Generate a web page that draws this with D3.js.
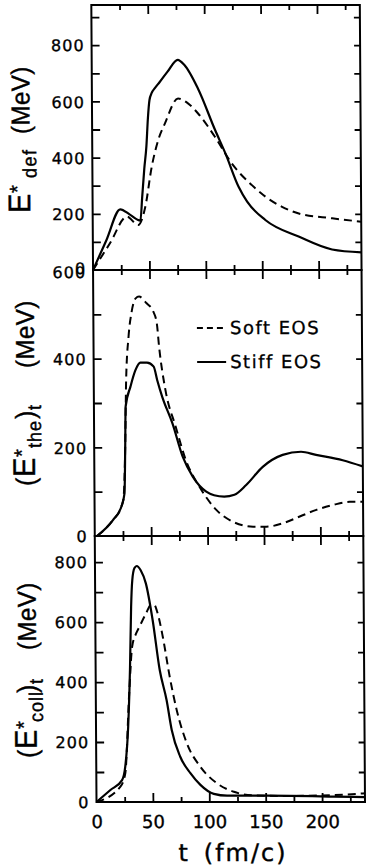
<!DOCTYPE html>
<html><head><meta charset="utf-8">
<script src="https://cdn.jsdelivr.net/npm/d3@7"></script>
<style>body{margin:0;background:#fff}svg{display:block}</style>
</head><body>
<svg id="c" width="366" height="867"></svg>
<script>
// ---------- data ----------
const tDefStiff = [0, 12, 24.5, 33, 42.3, 44, 46, 48, 49.5, 51, 53, 56, 60, 67, 76.3, 82, 94, 109, 118, 129.5, 137, 153, 183, 212, 238];
const eDefStiff = [0, 106, 216, 197, 176, 260, 360, 440, 540, 605, 630, 648, 668, 705, 748, 730, 646, 498, 415, 296, 243, 178, 118, 73, 63];
const tDefSoft  = [0, 15, 30.4, 40.2, 46.7, 52.6, 58.5, 64.5, 76.3, 85.1, 94, 108.8, 123.6, 141.3, 153.2, 167.9, 182.7, 212.3, 238];
const eDefSoft  = [0, 94, 190, 160, 225, 367, 462, 521, 610, 593, 557, 474, 379, 302, 261, 225, 201, 184, 172];

const tTheStiff = [2, 16.2, 23.7, 26.6, 27.5, 28.1, 32.5, 37, 41.4, 47.3, 53.2, 56.2, 60.6, 69.5, 78.4, 87.2, 99.1, 106, 115, 124, 134.5, 149.3, 167, 183.3, 196.6, 220.2, 238];
const eTheStiff = [0, 36, 66, 96, 201, 292, 337, 374, 391, 391, 382, 352, 314, 254, 179, 134, 100, 92, 89, 93, 115, 156, 183, 190, 183, 171, 157];
const tTheSoft  = [2, 16.2, 23.7, 25.7, 27.5, 28.7, 31.1, 34, 37.6, 40.6, 47.3, 53.2, 56.2, 58.1, 63.5, 72.3, 81.2, 93.1, 107.9, 122.7, 140.4, 152.2, 167, 181.8, 196.6, 211.4, 226.2, 238];
const eTheSoft  = [0, 36, 66, 85, 201, 352, 450, 506, 536, 540, 525, 506, 480, 427, 329, 247, 171, 111, 59, 32, 21, 21, 29, 44, 59, 70, 77, 77];

const tCollStiff = [0, 12.4, 22.8, 25.7, 28.5, 30.5, 31.8, 33, 35, 37, 40.5, 45, 50.8, 56.8, 62.7, 67.1, 74.5, 83.4, 92.2, 104, 115.8, 151.4, 210.5, 238];
const eCollStiff = [0, 40, 73, 118, 250, 450, 650, 740, 780, 787, 773, 729, 607, 440, 340, 240, 151, 96, 57, 27, 21, 21, 18, 16];
const tCollSoft  = [0, 21.3, 25.7, 29.6, 32.5, 36.1, 39, 45, 49.4, 52.3, 55.3, 59.7, 65.6, 71.6, 80.4, 92.2, 107, 121.8, 139.5, 166.1, 210.5, 238];
const eCollSoft  = [0, 51, 96, 362, 518, 562, 584, 629, 657, 657, 629, 551, 418, 307, 196, 118, 62, 34, 22, 20, 23, 29];

const xTickLabels = [0, 50, 100, 150, 200];
const yLabelsDef  = [0, 200, 400, 600, 800];
const yLabelsThe  = [0, 200, 400, 600];
const yLabelsColl = [0, 200, 400, 600, 800];
const legendNames = ["Soft EOS", "Stiff EOS"];

// ---------- layout ----------
const svg = d3.select("#c");
const k = 0.0065;
const root = svg.append("g")
  .attr("transform", `translate(${-802 * k},0) skewX(${Math.atan(k) * 180 / Math.PI})`);

const x = d3.scaleLinear().domain([0, 238]).range([96.5, 365]);
const X0 = 96.5, X1 = 365;

const panels = [
  { y: d3.scaleLinear().domain([0, 943]).range([270, 5]), max: 943, labels: yLabelsDef, shift0: -2,
    series: [[tDefSoft, eDefSoft, true], [tDefStiff, eDefStiff, false]] },
  { y: d3.scaleLinear().domain([0, 600]).range([536, 270]), max: 600, labels: yLabelsThe, shiftTop: 2,
    series: [[tTheSoft, eTheSoft, true], [tTheStiff, eTheStiff, false]] },
  { y: d3.scaleLinear().domain([0, 887]).range([802, 536]), max: 887, labels: yLabelsColl,
    series: [[tCollSoft, eCollSoft, true], [tCollStiff, eCollStiff, false]] }
];

const minorX = d3.range(25, 238, 50);
const majorX = d3.range(50, 238, 50);

panels.forEach((p, i) => {
  const [yb, yt] = p.y.range();
  const g = root.append("g");
  const addX = (vals, len) => {
    g.append("g").attr("transform", `translate(0,${yb})`)
      .call(d3.axisBottom(x).tickValues(vals).tickSize(-len).tickFormat(""));
    g.append("g").attr("transform", `translate(0,${yt})`)
      .call(d3.axisTop(x).tickValues(vals).tickSize(-len).tickFormat(""));
  };
  addX(minorX, 5);
  addX(majorX, 9);
  const yt100 = d3.range(100, p.max, 100);
  g.append("g").attr("transform", `translate(${X0},0)`)
    .call(d3.axisLeft(p.y).tickValues(yt100).tickSize(-8).tickFormat(""));
  g.append("g").attr("transform", `translate(${X1},0)`)
    .call(d3.axisRight(p.y).tickValues(yt100).tickSize(-6).tickFormat(""));
  g.selectAll(".domain").remove();
  g.selectAll(".tick line").attr("stroke", "#000").attr("stroke-width", 1.8);

  const ly = root.append("g").attr("transform", `translate(${X0},0)`)
    .call(d3.axisLeft(p.y).tickValues(p.labels).tickSize(0).tickPadding(7).tickFormat(d3.format("d")));
  ly.select(".domain").remove();
  ly.selectAll("text").attr("font-family", "DejaVu Sans").attr("font-size", 16)
    .attr("letter-spacing", 1).attr("fill", "#000")
    .attr("stroke", "#000").attr("stroke-width", 0.35)
    .attr("dy", d => (d === 0 && p.shift0) ? "0.24em" : (d === p.max && p.shiftTop) ? "0.48em" : "0.36em");

  p.series.forEach(([ts, vs, dashed]) => {
    const pts = ts.map((t, j) => [t, vs[j]]);
    root.append("path").datum(pts)
      .attr("fill", "none").attr("stroke", "#000")
      .attr("stroke-width", dashed ? 2 : 2.2)
      .attr("stroke-dasharray", dashed ? "8,5" : null)
      .attr("stroke-linejoin", "round")
      .attr("d", d3.line().x(d => x(d[0])).y(d => p.y(d[1])).curve(d3.curveMonotoneX));
  });

  root.append("rect").attr("x", X0).attr("y", yt).attr("width", X1 - X0).attr("height", yb - yt)
    .attr("fill", "none").attr("stroke", "#000").attr("stroke-width", 2);
});

const xl = root.append("g").attr("transform", `translate(0,802)`)
  .call(d3.axisBottom(x).tickValues(xTickLabels).tickSize(0).tickPadding(13));
xl.select(".domain").remove();
xl.selectAll("text").attr("font-family", "DejaVu Sans").attr("font-size", 18).attr("fill", "#000")
  .attr("stroke", "#000").attr("stroke-width", 0.35);

const xt = root.append("text").attr("x", 178).attr("y", 861)
  .attr("font-family", "DejaVu Sans").attr("font-size", 24).attr("letter-spacing", 2)
  .attr("stroke", "#000").attr("stroke-width", 0.4);
xt.append("tspan").text("t");
xt.append("tspan").attr("dx", 14).text("(fm/c)");

// y titles (rotated); each part: text, size, screen y where it starts (bottom), baseline offset
function yTitle(bx, parts) {
  const t = root.append("text")
    .attr("transform", `translate(${bx},0) scale(1.08,1) rotate(-90)`)
    .attr("font-family", "Liberation Sans").attr("fill", "#000")
    .attr("stroke", "#000").attr("stroke-width", 0.35);
  parts.forEach(pt => {
    const s = t.append("tspan").attr("font-size", pt.s).attr("x", -pt.y).attr("y", pt.o || 0).text(pt.txt);
    if (pt.ls) s.attr("letter-spacing", pt.ls);
  });
}
yTitle(34, [
  { txt: "E", s: 29, y: 213 }, { txt: "*", s: 20, y: 193, o: -5 }, { txt: "def", s: 18, y: 178, o: 6, ls: 1.5 },
  { txt: "(MeV)", s: 24, y: 134, ls: 0.5 }
]);
yTitle(37, [
  { txt: "(", s: 25, y: 486 }, { txt: "E", s: 29, y: 477 }, { txt: "*", s: 20, y: 457, o: -5 },
  { txt: "the", s: 18, y: 448, o: 6, ls: 1 }, { txt: ")", s: 25, y: 419 }, { txt: "t", s: 18, y: 410, o: 6 },
  { txt: "(MeV)", s: 24, y: 368, ls: 0.5 }
]);
yTitle(37, [
  { txt: "(", s: 25, y: 758 }, { txt: "E", s: 29, y: 749 }, { txt: "*", s: 20, y: 729, o: -5 },
  { txt: "coll", s: 18, y: 722, o: 6, ls: 1 }, { txt: ")", s: 25, y: 693 }, { txt: "t", s: 18, y: 684, o: 6 },
  { txt: "(MeV)", s: 24, y: 650, ls: 0.5 }
]);

legendNames.forEach((name, i) => {
  const ly = [328, 362][i];
  root.append("line").attr("x1", 200).attr("x2", 229).attr("y1", ly).attr("y2", ly)
    .attr("stroke", "#000").attr("stroke-width", i === 0 ? 1.8 : 2)
    .attr("stroke-dasharray", i === 0 ? "6,4" : null);
  root.append("text").attr("x", 233).attr("y", ly + 6.5)
    .attr("font-family", "DejaVu Sans").attr("font-size", 18).attr("letter-spacing", 1.5)
    .attr("fill", "#000").attr("stroke", "#000").attr("stroke-width", 0.3).text(name);
});
</script>
</body></html>
